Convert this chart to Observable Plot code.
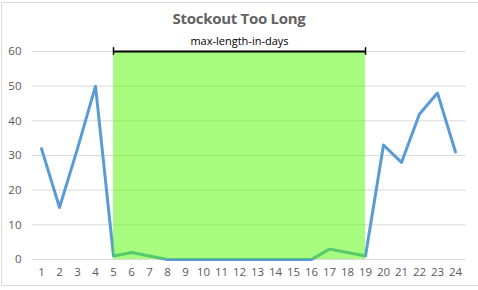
<!DOCTYPE html>
<html><head><meta charset="utf-8">
<script src="https://cdn.jsdelivr.net/npm/d3@7"></script>
<script src="https://cdn.jsdelivr.net/npm/@observablehq/plot@0.6"></script>
<style>
html,body{margin:0;padding:0;background:#fff;overflow:hidden;}
#wrap{position:relative;width:478px;height:290px;font-family:Calibri,Carlito,"Liberation Sans","Open Sans",sans-serif;}
#frame{position:absolute;left:1px;top:2px;width:490px;height:284px;border:1px solid #d9d9d9;box-sizing:border-box;}
#title{position:absolute;left:0;width:478px;top:8px;text-align:center;font-size:15px;font-weight:bold;color:#636363;font-family:"Open Sans",sans-serif;letter-spacing:-0.3px}
svg{position:absolute;left:0;top:0}
</style></head>
<body><div id="wrap"><div id="frame"></div><div id="title">Stockout Too Long</div></div>
<script>
const categories = [1,2,3,4,5,6,7,8,9,10,11,12,13,14,15,16,17,18,19,20,21,22,23,24];
const values = [32,15,32,50,1,2,1,0,0,0,0,0,0,0,0,0,3,2,1,33,28,42,48,31];
const windowStart = 5;
const windowEnd = 19;
const maxLength = 60;
const windowLabel = "max-length-in-days";
const yTicks = [0,10,20,30,40,50,60];

const data = categories.map((c,i)=>({x:c, y:values[i]}));
const win = categories.filter(c=>c>=windowStart && c<=windowEnd).map(c=>({x:c, y:maxLength}));

const chart = Plot.plot({
  width:478, height:290,
  marginLeft:32, marginRight:14, marginTop:51, marginBottom:31,
  style:{fontFamily:"'Open Sans',sans-serif", fontSize:"11.5px", color:"#595959", background:"transparent"},
  x:{domain:[0.5,24.5], ticks:categories, tickSize:0, tickPadding:8, tickFormat:d=>d, label:null},
  y:{domain:[0,60], ticks:yTicks, tickSize:0, tickPadding:11, label:null},
  marks:[
    Plot.gridY(yTicks,{stroke:"#d9d9d9", strokeOpacity:1, x1:0.5, x2:24.6}),
    Plot.line(data,{x:"x", y:"y", stroke:"#5b9bd5", strokeWidth:3, strokeLinejoin:"round"}),
    Plot.areaY(win,{x:"x", y:"y", fill:"#4ff700", fillOpacity:0.5}),
    Plot.ruleY([maxLength],{x1:windowStart, x2:windowEnd, stroke:"#000", strokeWidth:2}),
    Plot.ruleX([windowStart,windowEnd],{x:d=>d, y1:maxLength-1.1, y2:maxLength+1.1, stroke:"#000", strokeWidth:1.5}),
    Plot.text([windowLabel],{x:(windowStart+windowEnd)/2, y:maxLength, dy:-10, fill:"#000", fontSize:11}),
    Plot.axisY({ticks:yTicks, tickSize:0, tickPadding:11}),
    Plot.axisX({ticks:categories, tickSize:0, tickPadding:8})
  ]
});
document.getElementById("wrap").appendChild(chart);
</script></body></html>
